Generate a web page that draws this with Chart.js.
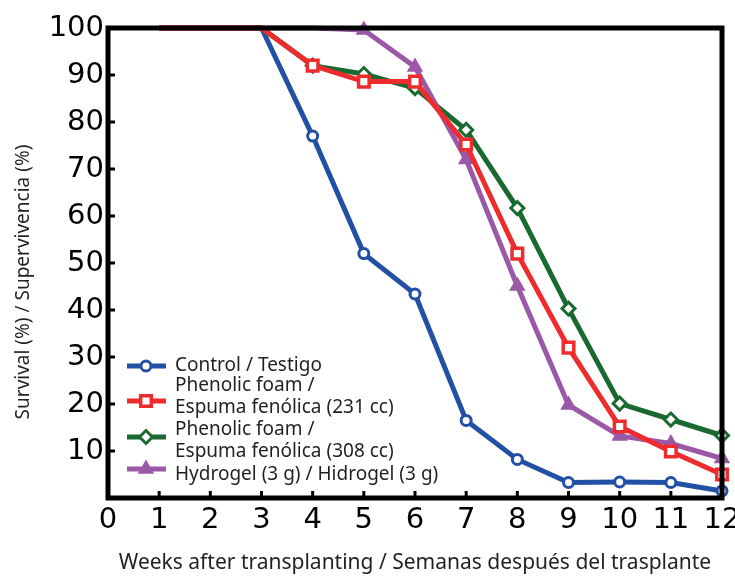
<!DOCTYPE html>
<html>
<head>
<meta charset="utf-8">
<script src="https://cdn.jsdelivr.net/npm/chart.js@4/dist/chart.umd.min.js"></script>
<style>
html,body{margin:0;padding:0;background:#fff;}
#wrap{position:relative;width:735px;height:576px;}
</style>
</head>
<body>
<div id="wrap"><canvas id="c" width="735" height="576"></canvas></div>
<script>
const weeks = [1, 2, 3, 4, 5, 6, 7, 8, 9, 10, 11, 12];
const control = [100, 100, 100, 77, 52, 43.4, 16.5, 8.2, 3.3, 3.4, 3.3, 1.5];
const foam231 = [100, 100, 100, 92, 88.6, 88.6, 75.2, 52, 32, 15.2, 9.9, 5];
const foam308 = [100, 100, 100, 92, 90.2, 87.2, 78.3, 61.7, 40.3, 20.1, 16.7, 13.3];
const hydrogel = [100, 100, 100, 100, 99.6, 91.7, 72, 45.1, 19.8, 13.2, 11.6, 8.4];
const xTicks = [0, 1, 2, 3, 4, 5, 6, 7, 8, 9, 10, 11, 12];
const yTicks = [0, 10, 20, 30, 40, 50, 60, 70, 80, 90, 100];
const seriesNames = [
  ['Control / Testigo'],
  ['Phenolic foam /', 'Espuma fenólica (231 cc)'],
  ['Phenolic foam /', 'Espuma fenólica (308 cc)'],
  ['Hydrogel (3 g) / Hidrogel (3 g)']
];
const xTitle = 'Weeks after transplanting / Semanas después del trasplante';
const yTitle = 'Survival (%) / Supervivencia (%)';

const toPts = arr => weeks.map((w, i) => ({x: w, y: arr[i]}));

const BLUE = '#2150a4', RED = '#ee2c2e', GREEN = '#1a6930', PURPLE = '#9a58a6';
const TEXT = '#231f20';

function ds(label, data, color, style, radius, bw, fill, order) {
  return {
    label: label, data: toPts(data), borderColor: color, backgroundColor: fill,
    borderWidth: 5, pointStyle: style,
    legendRadius: radius,
    pointRadius: c => (c.raw && c.raw.y >= 100) ? 0 : radius,
    pointBorderWidth: bw,
    pointBorderColor: color, pointBackgroundColor: fill, tension: 0, order: order,
    clip: false
  };
}

const datasets = [
  ds(seriesNames[0].join(' '), control, BLUE, 'circle', 5, 3, '#fff', 4),
  ds(seriesNames[1].join(' '), foam231, RED, 'rect', 7.5, 3.5, '#fff', 1),
  ds(seriesNames[2].join(' '), foam308, GREEN, 'rectRot', 6.5, 3, '#fff', 3),
  ds(seriesNames[3].join(' '), hydrogel, PURPLE, 'triangle', 6.5, 3, PURPLE, 2)
];

const framePlugin = {
  id: 'frame',
  afterDatasetsDraw(chart) {
    const {ctx, chartArea: a, scales} = chart;
    ctx.save();
    ctx.strokeStyle = '#000';
    ctx.lineWidth = 3;
    ctx.beginPath();
    xTicks.forEach(v => {
      if (v === 0 || v === 12) return;
      const px = scales.x.getPixelForValue(v);
      ctx.moveTo(px, a.bottom); ctx.lineTo(px, a.bottom - 7);
    });
    yTicks.forEach(v => {
      if (v === 0 || v === 100) return;
      const py = scales.y.getPixelForValue(v);
      ctx.moveTo(a.left, py); ctx.lineTo(a.left + 7, py);
    });
    ctx.stroke();
    ctx.lineWidth = 5;
    ctx.strokeRect(a.left, a.top, a.right - a.left, a.bottom - a.top);
    ctx.restore();
  },
  afterDraw(chart) {
    const ctx = chart.ctx;
    const a = chart.chartArea;
    ctx.save();
    // y-axis title
    ctx.fillStyle = TEXT;
    ctx.font = '19px "Noto Sans"';
    ctx.textAlign = 'center';
    ctx.textBaseline = 'middle';
    ctx.translate(24, 282);
    ctx.rotate(-Math.PI / 2);
    ctx.fillText(yTitle, 0, 0);
    ctx.restore();

    // legend
    ctx.save();
    ctx.font = '19px "Noto Sans"';
    ctx.textBaseline = 'middle';
    ctx.textAlign = 'left';
    const markerY = [366, 401, 437, 469];
    const textY = [[366], [386, 408], [430, 452], [475]];
    chart.data.datasets.forEach((d, i) => {
      const y = markerY[i];
      ctx.strokeStyle = d.borderColor;
      ctx.lineWidth = 5;
      ctx.beginPath(); ctx.moveTo(127, y); ctx.lineTo(166, y); ctx.stroke();
      ctx.fillStyle = d.pointBackgroundColor;
      ctx.strokeStyle = d.borderColor;
      ctx.lineWidth = d.pointBorderWidth;
      Chart.helpers.drawPoint(ctx, {
        pointStyle: d.pointStyle, radius: d.legendRadius, rotation: 0,
        borderWidth: d.pointBorderWidth
      }, 146, y);
      ctx.fillStyle = TEXT;
      seriesNames[i].forEach((t, k) => ctx.fillText(t, 175, textY[i][k]));
    });
    ctx.restore();
  }
};

new Chart(document.getElementById('c'), {
  type: 'line',
  data: {datasets: datasets},
  options: {
    responsive: false,
    animation: false,
    events: [],
    layout: {padding: {left: 0, top: 28, right: 13, bottom: 0}},
    plugins: {legend: {display: false}, tooltip: {enabled: false}},
    scales: {
      x: {
        type: 'linear', min: 0, max: 12,
        afterBuildTicks: s => { s.ticks = xTicks.map(v => ({value: v})); },
        afterFit: s => { s.height = 78; s.paddingLeft = 0; s.paddingRight = 0; },
        grid: {display: false, drawTicks: false},
        border: {display: false},
        ticks: {padding: 5, color: '#000', font: {family: 'DejaVu Sans', size: 29}, maxRotation: 0, autoSkip: false},
        title: {display: true, text: xTitle, color: TEXT, font: {family: 'Noto Sans', size: 21}, padding: {top: 0, bottom: 0}}
      },
      y: {
        min: 0, max: 100,
        afterBuildTicks: s => { s.ticks = yTicks.map(v => ({value: v})); },
        afterFit: s => { s.width = 108; s.paddingTop = 0; s.paddingBottom = 0; },
        grid: {display: false, drawTicks: false},
        border: {display: false},
        ticks: {padding: 4, color: '#000', font: {family: 'DejaVu Sans', size: 29}, callback: v => v === 0 ? '' : String(v)},
        title: {display: false}
      }
    }
  },
  plugins: [framePlugin]
});
</script>
</body>
</html>
